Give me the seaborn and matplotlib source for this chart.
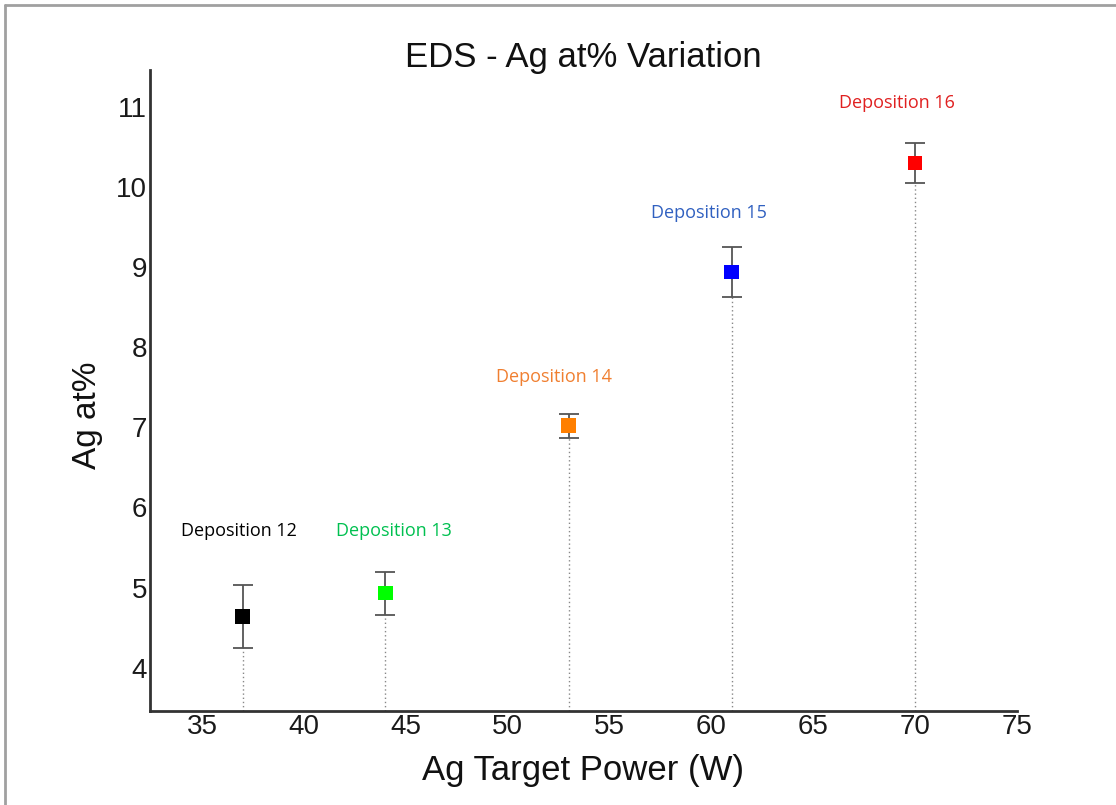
import matplotlib
matplotlib.use("Agg")
import matplotlib.pyplot as plt
import seaborn as sns
import pandas as pd
from matplotlib.lines import Line2D

labels = ["Deposition 12", "Deposition 13", "Deposition 14", "Deposition 15", "Deposition 16"]
power = [37, 44, 53, 61, 70]
ag_at = [4.64, 4.93, 7.02, 8.94, 10.30]
err = [0.39, 0.27, 0.15, 0.31, 0.25]
marker_colors = ["#000000", "#00ff00", "#ff7f00", "#0000ff", "#ff0000"]
label_colors = ["#000000", "#00c050", "#f07f30", "#3060c0", "#e02020"]
label_y = [5.71, 5.71, 7.63, 9.68, 11.05]
label_x = [36.8, 44.4, 52.3, 59.9, 69.1]

df = pd.DataFrame({"label": labels, "power": power, "ag": ag_at})

sns.set_style("white")
plt.rcParams['font.family'] = ['Liberation Sans', 'DejaVu Sans']

fig = plt.figure(figsize=(11.16, 8.05), dpi=100)
ax = fig.add_axes([150/1116, 1 - 711/805, (1017-150)/1116, (711-70)/805])

xlim = (32.45, 75.0)
ylim = (3.46, 11.46)

# dotted drop lines
for x, y, e in zip(power, ag_at, err):
    ax.plot([x, x], [ylim[0], y - e], color="#888888", linestyle=(0, (1, 2)), linewidth=1.0, zorder=1)

ax.errorbar(power, ag_at, yerr=err, fmt="none", ecolor="#555555", elinewidth=1.3,
            capsize=7, capthick=1.3, zorder=2)

sns.scatterplot(data=df, x="power", y="ag", hue="label", palette=marker_colors,
                marker="s", s=110, edgecolor="none", legend=False, ax=ax, zorder=3)

for lx, ly, t, c in zip(label_x, label_y, labels, label_colors):
    ax.text(lx, ly, t, color=c, fontsize=13, ha="center", va="center",
            family=["Open Sans", "DejaVu Sans"])

ax.set_xlim(*xlim)
ax.set_ylim(*ylim)
ax.set_xticks([35, 40, 45, 50, 55, 60, 65, 70, 75])
ax.set_yticks([4, 5, 6, 7, 8, 9, 10, 11])
ax.tick_params(axis="both", labelsize=20, length=0, pad=2)
for lab in ax.get_xticklabels() + ax.get_yticklabels():
    lab.set_color("#1a1a1a")

ax.spines["top"].set_visible(False)
ax.spines["right"].set_visible(False)
for s in ["left", "bottom"]:
    ax.spines[s].set_color("#333333")
    ax.spines[s].set_linewidth(2.0)

ax.set_xlabel("Ag Target Power (W)", fontsize=25, labelpad=10, color="#111111")
ax.set_ylabel("Ag at%", fontsize=24, color="#111111")
ax.yaxis.set_label_coords(-0.054, 0.462)
fig.text(583/1116, 1 - 57/805, "EDS - Ag at% Variation", fontsize=25, ha="center", va="center", color="#111111")

# outer border (left and top only)
fig.add_artist(Line2D([5/1116, 5/1116], [0, 1 - 5/805], transform=fig.transFigure, color="#a0a0a0", linewidth=2))
fig.add_artist(Line2D([5/1116, 1], [1 - 5/805, 1 - 5/805], transform=fig.transFigure, color="#a0a0a0", linewidth=2))

fig.savefig("out.png", dpi=100)
